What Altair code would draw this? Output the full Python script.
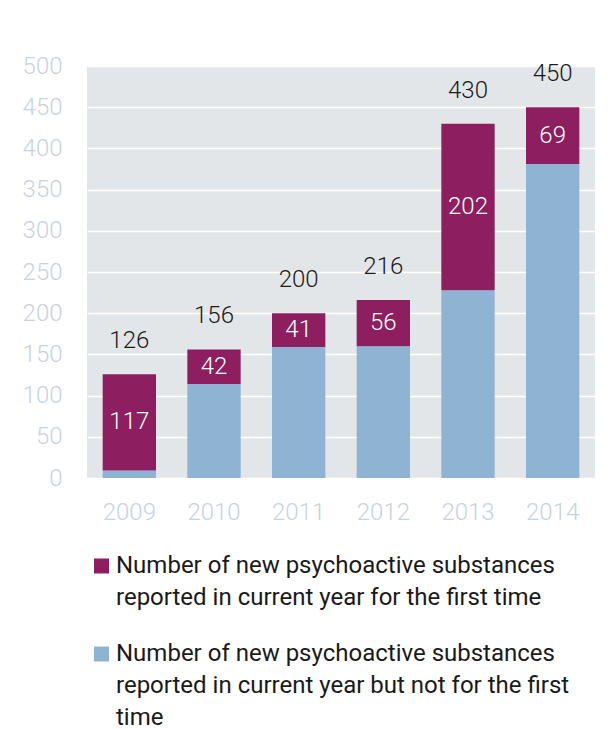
import altair as alt
import pandas as pd

years = ["2009", "2010", "2011", "2012", "2013", "2014"]
first_time = [117, 42, 41, 56, 202, 69]
not_first = [9, 114, 159, 160, 228, 381]
totals = [126, 156, 200, 216, 430, 450]
series = ["first", "notfirst"]
series_colors = ["#8d1f60", "#8fb3d3"]
legend_lines = [
    ["Number of new psychoactive substances", "reported in current year for the first time"],
    ["Number of new psychoactive substances", "reported in current year but not for the first", "time"],
]
y_ticks = list(range(0, 501, 50))

FONT = "Roboto"
AXIS_COLOR = "#c9d2de"

rows = []
for i, y in enumerate(years):
    rows.append({"year": y, "series": "notfirst", "value": not_first[i], "order": 0})
    rows.append({"year": y, "series": "first", "value": first_time[i], "order": 1})
bars_df = pd.DataFrame(rows)

lab_df = pd.DataFrame({
    "year": years,
    "first": first_time,
    "notfirst": not_first,
    "total": totals,
})

color_scale = alt.Scale(domain=series, range=series_colors)

x_enc = alt.X(
    "year:N",
    scale=alt.Scale(paddingInner=0.37, paddingOuter=0.185),
    axis=alt.Axis(
        title=None, labelAngle=0, domain=False, ticks=False, labelPadding=22,
        labelFontSize=24, labelColor=AXIS_COLOR, labelFont=FONT, labelFontWeight=300,
    ),
)

bars = alt.Chart(bars_df).mark_bar().encode(
    x=x_enc,
    y=alt.Y(
        "value:Q",
        stack="zero",
        scale=alt.Scale(domain=[0, 500], nice=False),
        axis=alt.Axis(
            title=None, values=y_ticks, grid=True, gridColor="white", gridWidth=1.5,
            domain=False, ticks=False, labelPadding=25, labelFontSize=24,
            labelColor=AXIS_COLOR, labelFont=FONT, labelFontWeight=300,
        ),
    ),
    color=alt.Color("series:N", scale=color_scale, legend=None),
    order=alt.Order("order:Q"),
)

inner = alt.Chart(lab_df).transform_calculate(
    mid="datum.notfirst + datum.first / 2"
).mark_text(color="white", fontSize=24, font=FONT, fontWeight=300, baseline="middle").encode(
    x=alt.X("year:N"),
    y=alt.Y("mid:Q"),
    text=alt.Text("first:Q"),
)

tops = alt.Chart(lab_df).mark_text(
    color="#1a1a1a", fontSize=24, font=FONT, fontWeight=300, baseline="alphabetic", dy=-26
).encode(
    x=alt.X("year:N"),
    y=alt.Y("total:Q"),
    text=alt.Text("total:Q"),
)

main = alt.layer(bars, inner, tops).properties(
    width=508, height=412,
    view=alt.ViewBackground(fill="#e3e6e9", stroke=None),
)

leg_df = pd.DataFrame({
    "entry": [0, 1],
    "series": series,
    "lines": legend_lines,
})

leg_y = alt.Y("entry:O", axis=None, scale=alt.Scale(padding=0))

swatch = alt.Chart(leg_df).mark_square(size=225, opacity=1, yOffset=-7).encode(
    x=alt.value(14.5),
    y=leg_y,
    color=alt.Color("series:N", scale=color_scale, legend=None),
)

leg_text = alt.Chart(leg_df).mark_text(
    align="left", baseline="alphabetic", fontSize=24, font=FONT, color="#1a1a1a", lineHeight=32
).encode(
    x=alt.value(29),
    y=leg_y,
    text=alt.Text("lines:N"),
)

legend = alt.layer(swatch, leg_text).properties(
    width=508, height=88,
    view=alt.ViewBackground(fill=None, stroke=None),
)

chart = alt.vconcat(main, legend, spacing=30).configure(
    padding={"left": 14, "top": 46, "right": 5, "bottom": 0},
    background="white",
)

chart.save("out.html", embed_options={"renderer": "svg", "actions": False})
